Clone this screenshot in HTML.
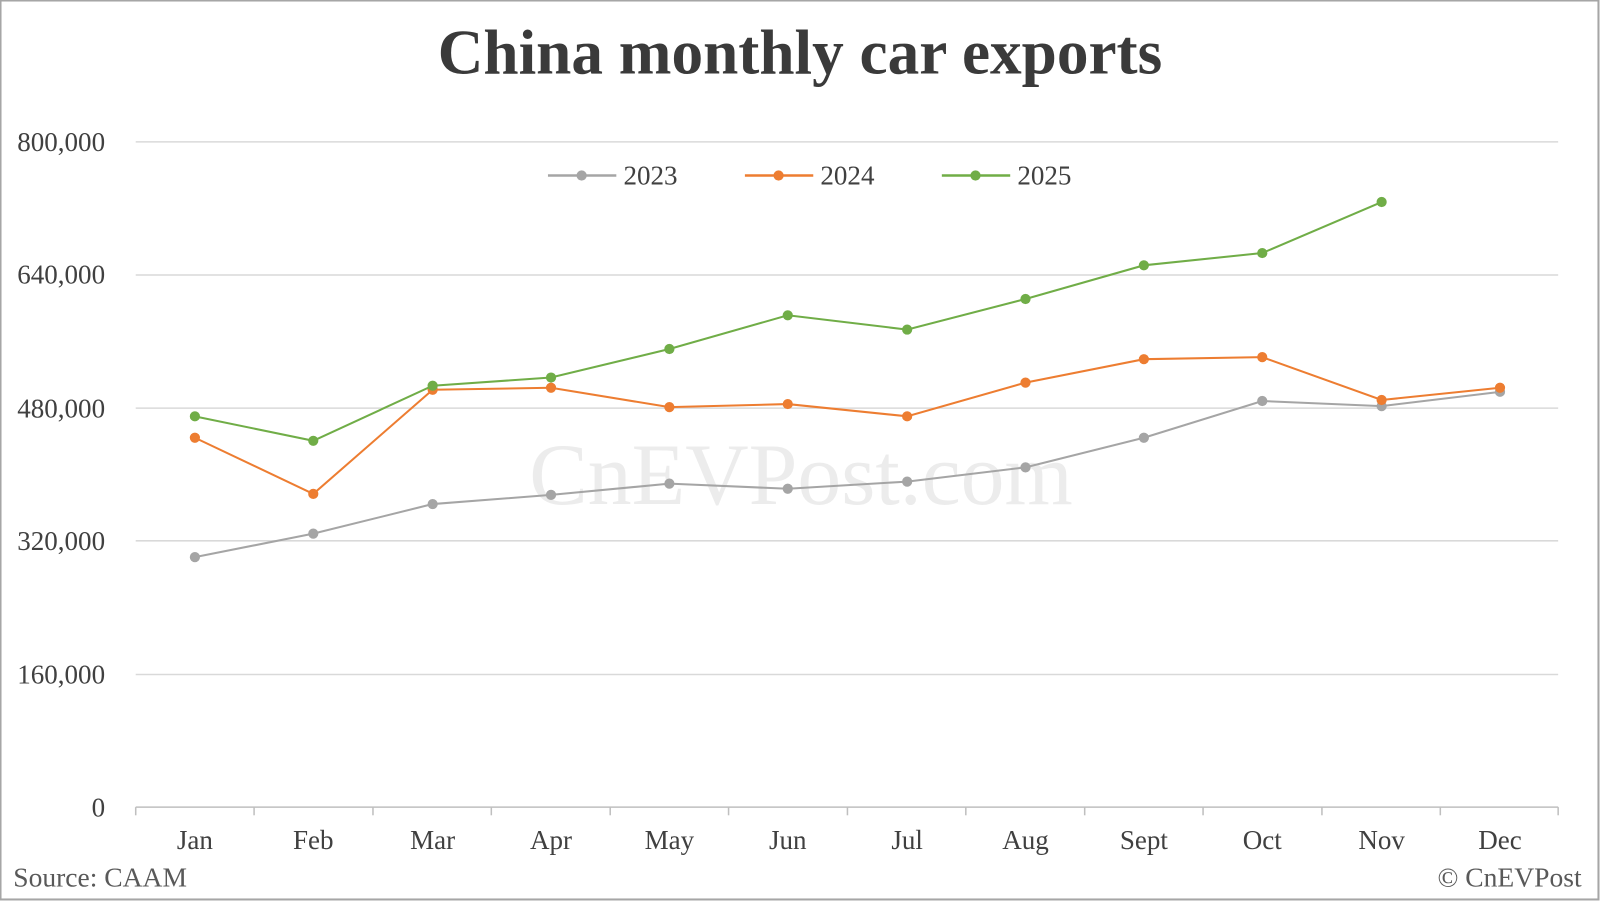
<!DOCTYPE html>
<html><head><meta charset="utf-8"><style>
html,body{margin:0;padding:0;background:#fff}
svg{display:block}
text{font-family:"Liberation Serif",serif}
</style></head><body>
<svg width="1600" height="901" viewBox="0 0 1568 883" preserveAspectRatio="none" xmlns="http://www.w3.org/2000/svg">
<rect x="0.5" y="0.5" width="1566" height="881" fill="#fff" stroke="#a6a6a6" stroke-width="2"/>
<text x="784" y="72" text-anchor="middle" font-size="62" font-weight="bold" fill="#3a3a3a">China monthly car exports</text>
<text x="785" y="494" text-anchor="middle" font-size="86" fill="#ececec">CnEVPost.com</text>
<g stroke="#d9d9d9" stroke-width="1.5">
<line x1="133" x2="1527" y1="139" y2="139"/>
<line x1="133" x2="1527" y1="269.5" y2="269.5"/>
<line x1="133" x2="1527" y1="400" y2="400"/>
<line x1="133" x2="1527" y1="530" y2="530"/>
<line x1="133" x2="1527" y1="661" y2="661"/>
</g>
<g stroke="#bfbfbf" stroke-width="1.5">
<line x1="133" x2="1527" y1="791" y2="791"/>
<line x1="133" x2="133" y1="791" y2="799"/><line x1="249" x2="249" y1="791" y2="799"/><line x1="365.5" x2="365.5" y1="791" y2="799"/><line x1="481.5" x2="481.5" y1="791" y2="799"/><line x1="598" x2="598" y1="791" y2="799"/><line x1="714" x2="714" y1="791" y2="799"/><line x1="830.5" x2="830.5" y1="791" y2="799"/><line x1="946.5" x2="946.5" y1="791" y2="799"/><line x1="1063" x2="1063" y1="791" y2="799"/><line x1="1179" x2="1179" y1="791" y2="799"/><line x1="1295.5" x2="1295.5" y1="791" y2="799"/><line x1="1411.5" x2="1411.5" y1="791" y2="799"/><line x1="1527" x2="1527" y1="791" y2="799"/>
</g>
<g font-size="26.5" fill="#404040" text-anchor="end">
<text x="103" y="148">800,000</text><text x="103" y="278">640,000</text><text x="103" y="409">480,000</text><text x="103" y="539">320,000</text><text x="103" y="670">160,000</text><text x="103" y="800">0</text>
</g>
<g font-size="26.5" fill="#404040" text-anchor="middle">
<text x="191" y="832">Jan</text><text x="307" y="832">Feb</text><text x="424" y="832">Mar</text><text x="540" y="832">Apr</text><text x="656" y="832">May</text><text x="772" y="832">Jun</text><text x="889" y="832">Jul</text><text x="1005" y="832">Aug</text><text x="1121" y="832">Sept</text><text x="1237" y="832">Oct</text><text x="1354" y="832">Nov</text><text x="1470" y="832">Dec</text>
</g>
<text x="13" y="869" font-size="27" fill="#595959">Source: CAAM</text>
<text x="1550" y="869" font-size="27" fill="#595959" text-anchor="end">© CnEVPost</text>
<g font-size="26.5" fill="#404040">
<line x1="537" x2="604" y1="172" y2="172" stroke="#a5a5a5" stroke-width="2.5"/><circle cx="570" cy="172" r="5" fill="#a5a5a5"/><text x="611" y="181">2023</text>
<line x1="730" x2="797" y1="172" y2="172" stroke="#ed7d31" stroke-width="2.5"/><circle cx="763" cy="172" r="5" fill="#ed7d31"/><text x="804" y="181">2024</text>
<line x1="923" x2="990" y1="172" y2="172" stroke="#70ad47" stroke-width="2.5"/><circle cx="956" cy="172" r="5" fill="#70ad47"/><text x="997" y="181">2025</text>
</g>
<g fill="#a5a5a5"><polyline fill="none" stroke="#a5a5a5" stroke-width="2" points="191,546 307,523 424,494 540,485 656,474 772,479 889,472 1005,458 1121,429 1237,393 1354,398 1470,384"/>
<circle cx="191" cy="546" r="5"/><circle cx="307" cy="523" r="5"/><circle cx="424" cy="494" r="5"/><circle cx="540" cy="485" r="5"/><circle cx="656" cy="474" r="5"/><circle cx="772" cy="479" r="5"/><circle cx="889" cy="472" r="5"/><circle cx="1005" cy="458" r="5"/><circle cx="1121" cy="429" r="5"/><circle cx="1237" cy="393" r="5"/><circle cx="1354" cy="398" r="5"/><circle cx="1470" cy="384" r="5"/></g>
<g fill="#ed7d31"><polyline fill="none" stroke="#ed7d31" stroke-width="2" points="191,429 307,484 424,382 540,380 656,399 772,396 889,408 1005,375 1121,352 1237,350 1354,392 1470,380"/>
<circle cx="191" cy="429" r="5"/><circle cx="307" cy="484" r="5"/><circle cx="424" cy="382" r="5"/><circle cx="540" cy="380" r="5"/><circle cx="656" cy="399" r="5"/><circle cx="772" cy="396" r="5"/><circle cx="889" cy="408" r="5"/><circle cx="1005" cy="375" r="5"/><circle cx="1121" cy="352" r="5"/><circle cx="1237" cy="350" r="5"/><circle cx="1354" cy="392" r="5"/><circle cx="1470" cy="380" r="5"/></g>
<g fill="#70ad47"><polyline fill="none" stroke="#70ad47" stroke-width="2" points="191,408 307,432 424,378 540,370 656,342 772,309 889,323 1005,293 1121,260 1237,248 1354,198"/>
<circle cx="191" cy="408" r="5"/><circle cx="307" cy="432" r="5"/><circle cx="424" cy="378" r="5"/><circle cx="540" cy="370" r="5"/><circle cx="656" cy="342" r="5"/><circle cx="772" cy="309" r="5"/><circle cx="889" cy="323" r="5"/><circle cx="1005" cy="293" r="5"/><circle cx="1121" cy="260" r="5"/><circle cx="1237" cy="248" r="5"/><circle cx="1354" cy="198" r="5"/></g>
</svg>
</body></html>
